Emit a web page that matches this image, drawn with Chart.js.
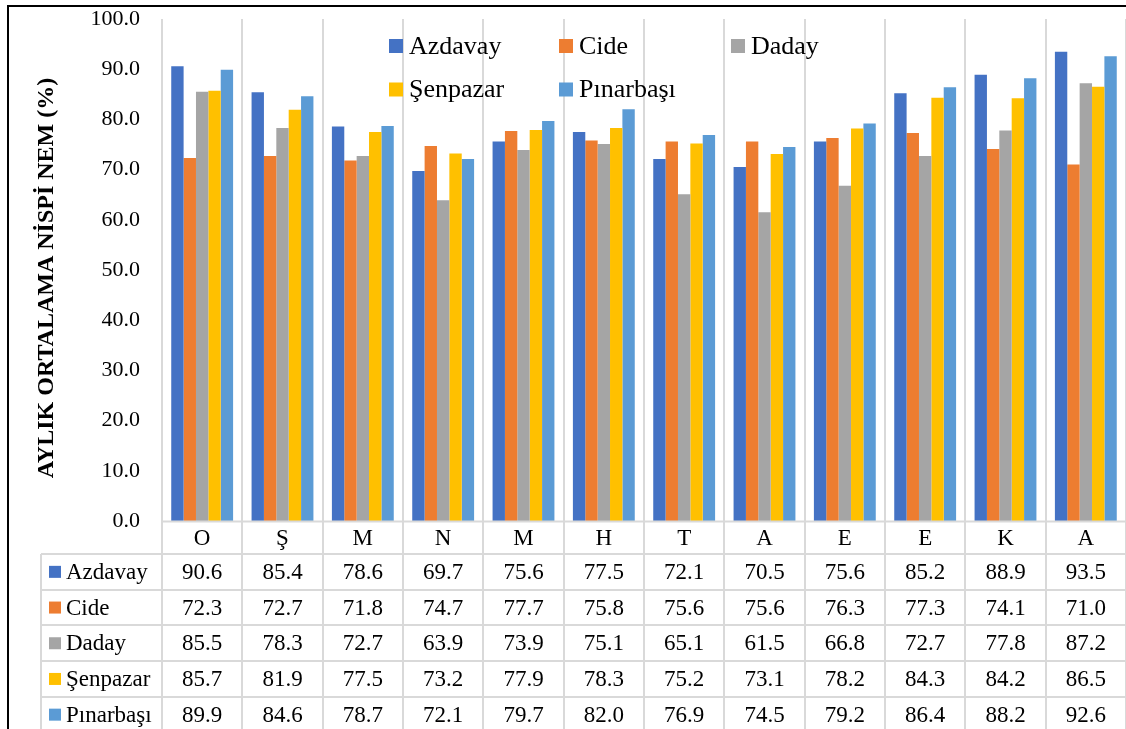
<!DOCTYPE html>
<html>
<head>
<meta charset="utf-8">
<script src="https://cdn.jsdelivr.net/npm/chart.js@4/dist/chart.umd.min.js"></script>
<style>
  html, body { margin: 0; padding: 0; background: #ffffff; overflow: hidden; }
  #wrap { position: relative; width: 1126px; height: 729px; }
</style>
</head>
<body>
<div id="wrap"><canvas id="c" width="1126" height="729"></canvas></div>
<script>
// Monthly categories (hydrological year, October to September)
const months = ['O', 'Ş', 'M', 'N', 'M', 'H', 'T', 'A', 'E', 'E', 'K', 'A'];

// Mean monthly relative humidity (%) by station
const stationNames = ['Azdavay', 'Cide', 'Daday', 'Şenpazar', 'Pınarbaşı'];
const azdavay   = [90.6, 85.4, 78.6, 69.7, 75.6, 77.5, 72.1, 70.5, 75.6, 85.2, 88.9, 93.5];
const cide      = [72.3, 72.7, 71.8, 74.7, 77.7, 75.8, 75.6, 75.6, 76.3, 77.3, 74.1, 71.0];
const daday     = [85.5, 78.3, 72.7, 63.9, 73.9, 75.1, 65.1, 61.5, 66.8, 72.7, 77.8, 87.2];
const senpazar  = [85.7, 81.9, 77.5, 73.2, 77.9, 78.3, 75.2, 73.1, 78.2, 84.3, 84.2, 86.5];
const pinarbasi = [89.9, 84.6, 78.7, 72.1, 79.7, 82.0, 76.9, 74.5, 79.2, 86.4, 88.2, 92.6];

const stationColors = ['#4472C4', '#ED7D31', '#A5A5A5', '#FFC000', '#5B9BD5'];
const axisTitle = 'AYLIK ORTALAMA NİSPİ NEM (%)';

const SERIF = '"Liberation Serif", "Times New Roman", serif';
const GRID = '#d9d9d9';

const seriesValues = [azdavay, cide, daday, senpazar, pinarbasi];
const datasets = stationNames.map((name, i) => ({
  label: name,
  data: seriesValues[i],
  backgroundColor: stationColors[i],
  borderWidth: 0,
  categoryPercentage: 0.77,
  barPercentage: 1.0
}));

// Frame, axis title, legend block inside the plot and the data table below it
const decorations = {
  id: 'decorations',
  afterDraw(chart) {
    const ctx = chart.ctx;
    const xs = chart.scales.x;
    const area = chart.chartArea;
    const n = months.length;
    const catW = (area.right - area.left) / n;

    ctx.save();

    // rotated y-axis title
    ctx.save();
    ctx.translate(47, 278);
    ctx.rotate(-Math.PI / 2);
    ctx.font = 'bold 24px ' + SERIF;
    ctx.fillStyle = '#000';
    ctx.textAlign = 'center';
    ctx.textBaseline = 'middle';
    ctx.fillText(axisTitle, 0, 0);
    ctx.restore();

    // legend (two rows, fixed columns)
    const legCols = [389, 559, 731];
    const legRows = [46, 89.5];
    ctx.font = '26px ' + SERIF;
    ctx.textBaseline = 'middle';
    ctx.textAlign = 'left';
    chart.data.datasets.forEach((ds, i) => {
      const col = i % 3, row = Math.floor(i / 3);
      const x = legCols[col], y = legRows[row];
      ctx.fillStyle = ds.backgroundColor;
      ctx.fillRect(x, y - 7, 14, 14);
      ctx.fillStyle = '#000';
      ctx.fillText(ds.label, x + 20, y + 1);
    });

    // data table
    const tableLeft = 41;
    const headTop = area.bottom;
    const headBottom = 554;
    const rowH = 35.7;
    const bottom = chart.height + 10;

    ctx.strokeStyle = GRID;
    ctx.lineWidth = 2;
    ctx.beginPath();
    ctx.moveTo(area.left, headTop + 0.5);
    ctx.lineTo(area.right + 10, headTop + 0.5);
    for (let r = 0; r <= datasets.length; r++) {
      const y = Math.round(headBottom + r * rowH);
      ctx.moveTo(tableLeft, y);
      ctx.lineTo(area.right + 10, y);
    }
    ctx.moveTo(tableLeft, headBottom);
    ctx.lineTo(tableLeft, bottom);
    for (let i = 0; i <= n; i++) {
      const x = Math.round(area.left + i * catW);
      ctx.moveTo(x, headTop);
      ctx.lineTo(x, bottom);
    }
    ctx.stroke();

    ctx.font = '23px ' + SERIF;
    ctx.fillStyle = '#000';
    ctx.textBaseline = 'middle';
    ctx.textAlign = 'center';
    months.forEach((m, i) => {
      ctx.fillText(m, xs.getPixelForValue(i), (headTop + headBottom) / 2 + 1);
    });

    chart.data.datasets.forEach((ds, r) => {
      const yc = headBottom + r * rowH + rowH / 2 + 1;
      ctx.fillStyle = ds.backgroundColor;
      ctx.fillRect(49, yc - 7, 12, 12);
      ctx.fillStyle = '#000';
      ctx.textAlign = 'left';
      ctx.fillText(ds.label, 66, yc);
      ctx.textAlign = 'center';
      ds.data.forEach((v, i) => {
        ctx.fillText(v.toFixed(1), xs.getPixelForValue(i), yc);
      });
    });

    // outer frame
    ctx.strokeStyle = '#000';
    ctx.lineWidth = 2;
    ctx.strokeRect(8, 6, chart.width + 20, chart.height + 20);

    ctx.restore();
  }
};

new Chart(document.getElementById('c'), {
  type: 'bar',
  data: { labels: months, datasets: datasets },
  options: {
    responsive: false,
    animation: false,
    layout: { padding: { left: 0, top: 19, right: 0, bottom: 208 } },
    plugins: {
      legend: { display: false },
      tooltip: { enabled: false }
    },
    scales: {
      x: {
        ticks: { display: false },
        grid: { color: GRID, lineWidth: 2, drawTicks: false, offset: true },
        border: { display: false },
        afterFit(scale) { scale.height = 0; }
      },
      y: {
        min: 0,
        max: 100,
        ticks: {
          stepSize: 10,
          padding: 22,
          color: '#000',
          font: { family: SERIF, size: 22 },
          callback: (v) => Number(v).toFixed(1)
        },
        grid: { display: false, drawTicks: false },
        border: { display: false },
        afterFit(scale) {
          scale.width = 162;
          scale.paddingTop = 0;
          scale.paddingBottom = 0;
        }
      }
    }
  },
  plugins: [decorations]
});
</script>
</body>
</html>
